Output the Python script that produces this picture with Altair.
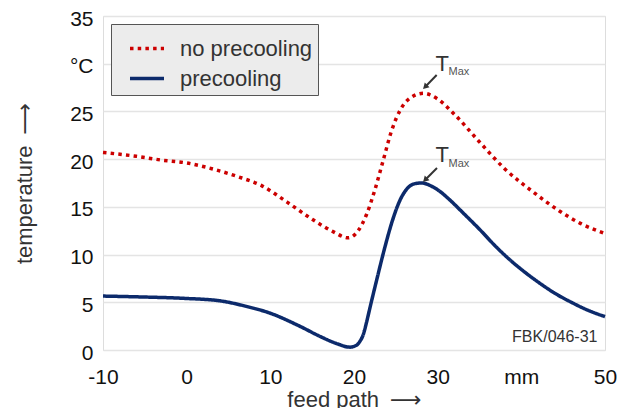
import altair as alt
import pandas as pd

FONT = "Liberation Sans"
TITLE_FONT = "Liberation Sans, DejaVu Sans"

# ---- data ----
series = ["no precooling", "precooling"]

x_no_pre = [-10, -6, -3, 0, 3, 6, 9, 12, 15, 17.5, 19.3, 20.5, 21.5, 22.5, 23.5,
            24.5, 25.5, 26.7, 28.3, 30, 32, 35, 38, 41.5, 44.5, 47, 50]
y_no_pre = [20.7, 20.3, 19.9, 19.6, 19.0, 18.2, 17.2, 15.5, 13.7, 12.4, 11.75, 12.5,
            14.2, 16.8, 19.9, 23.0, 25.1, 26.4, 26.9, 26.3, 24.7, 21.8, 19.0, 16.5,
            14.6, 13.3, 12.2]

x_pre = [-10, -5, 0, 4, 7, 10, 13.5, 16, 18, 19.5, 20.3, 20.7, 21.1, 21.5, 21.9,
         22.7, 23.7, 24.5, 25.5, 26.5, 27.4, 28.1, 29.3, 30.3, 31.3, 33, 35, 37,
         38.7, 40.5, 42.2, 44, 46.2, 48, 50]
y_pre = [5.65, 5.55, 5.4, 5.15, 4.6, 3.85, 2.5, 1.4, 0.65, 0.3, 0.5, 0.9, 1.6, 2.9, 4.4,
         7.3, 10.8, 13.3, 15.7, 17.05, 17.45, 17.5, 17.15, 16.6, 15.85, 14.4, 12.65, 10.8,
         9.4, 8.1, 7.0, 5.95, 4.9, 4.15, 3.5]

y_ticks = [0, 5, 10, 15, 20, 25, 30, 35]
x_ticks = [-10, 0, 10, 20, 30, 40, 50]

# annotation texts
t_label = ["T", "T"]
t_x = [29.75, 29.75]
t_y = [29.24, 19.67]
sub_label = ["Max", "Max"]
sub_x = [31.3, 31.3]
sub_y = [28.82, 19.2]
arrow_x1 = [29.88, 29.92]
arrow_y1 = [28.82, 19.07]
arrow_x2 = [28.58, 28.58]
arrow_y2 = [27.64, 17.89]
code_label = ["FBK/046-31"]
code_x = [49.1]
code_y = [0.87]

df = pd.concat([
    pd.DataFrame({"x": x_no_pre, "y": y_no_pre, "series": series[0]}),
    pd.DataFrame({"x": x_pre, "y": y_pre, "series": series[1]}),
])

xscale = alt.Scale(domain=[-10, 50], nice=False, zero=False)
yscale = alt.Scale(domain=[0, 35], nice=False, zero=False)

leg = alt.Legend(
    title=None, orient="top-left", offset=8,
    fillColor="#ececec", strokeColor="#555555", padding=5.5,
    labelFont=FONT, labelFontSize=22, labelColor="#333333",
    labelExpr="datum.label + '\u2002'",
    symbolType="stroke", symbolSize=1156, symbolStrokeWidth=3.5,
    rowPadding=-2, labelOffset=14, symbolOffset=11.5, cornerRadius=0,
)

lines = alt.Chart(df).mark_line(interpolate="monotone", strokeWidth=3.5, strokeCap="butt").encode(
    x=alt.X("x:Q", scale=xscale, axis=alt.Axis(
        values=x_ticks, labelExpr="datum.value == 40 ? 'mm' : toString(datum.value)",
        title="feed path\u2002⟶", grid=False, ticks=False, domain=False,
        labelPadding=16, titlePadding=2, labelFlush=False,
        labelFont=FONT, labelFontSize=21, labelColor="#111111",
        titleFont=TITLE_FONT, titleFontSize=22, titleFontWeight="normal", titleColor="#333333")),
    y=alt.Y("y:Q", scale=yscale, axis=alt.Axis(
        values=y_ticks, labelExpr="datum.value == 30 ? '°C' : toString(datum.value)",
        title="temperature\u2002⟶", grid=True, gridColor="#e4e4e4", gridWidth=1.5,
        ticks=False, domain=False, labelPadding=10, titlePadding=33, labelFlush=False,
        labelOffset=3,
        labelFont=FONT, labelFontSize=21, labelColor="#111111",
        titleFont=TITLE_FONT, titleFontSize=22, titleFontWeight="normal", titleColor="#333333")),
    color=alt.Color("series:N", scale=alt.Scale(domain=series, range=["#cc0000", "#0c2a6b"]), legend=leg),
    strokeDash=alt.StrokeDash("series:N", scale=alt.Scale(domain=series, range=[[3.5, 4.2], [1, 0]]), legend=leg),
)

tdf = pd.DataFrame({"x": t_x, "y": t_y, "t": t_label})
sdf = pd.DataFrame({"x": sub_x, "y": sub_y, "t": sub_label})
adf = pd.DataFrame({"x": arrow_x1, "y": arrow_y1, "x2": arrow_x2, "y2": arrow_y2})
cdf = pd.DataFrame({"x": code_x, "y": code_y, "t": code_label})

t_text = alt.Chart(tdf).mark_text(align="left", baseline="alphabetic", font=FONT, fontSize=22, color="#333333").encode(
    x=alt.X("x:Q", scale=xscale), y=alt.Y("y:Q", scale=yscale), text="t:N")
s_text = alt.Chart(sdf).mark_text(align="left", baseline="alphabetic", font=FONT, fontSize=11, color="#555555").encode(
    x=alt.X("x:Q", scale=xscale), y=alt.Y("y:Q", scale=yscale), text="t:N")
arrows = alt.Chart(adf).mark_rule(color="#333333", strokeWidth=2).encode(
    x=alt.X("x:Q", scale=xscale), y=alt.Y("y:Q", scale=yscale), x2="x2:Q", y2="y2:Q")
heads = alt.Chart(adf).mark_point(shape="triangle", filled=True, angle=225, size=45, color="#333333", opacity=1).encode(
    x=alt.X("x2:Q", scale=xscale), y=alt.Y("y2:Q", scale=yscale))
c_text = alt.Chart(cdf).mark_text(align="right", baseline="alphabetic", font=FONT, fontSize=16, color="#333333").encode(
    x=alt.X("x:Q", scale=xscale), y=alt.Y("y:Q", scale=yscale), text="t:N")

chart = alt.layer(lines, arrows, heads, t_text, s_text, c_text).properties(
    width=502, height=334,
    autosize=alt.AutoSizeParams(type="none"),
    padding={"left": 95, "top": 8, "right": 12, "bottom": 58},
).configure_view(stroke="#000000", strokeWidth=2.5).configure(background="white")

chart.save("out.html", embed_options={"renderer": "svg", "actions": False})
